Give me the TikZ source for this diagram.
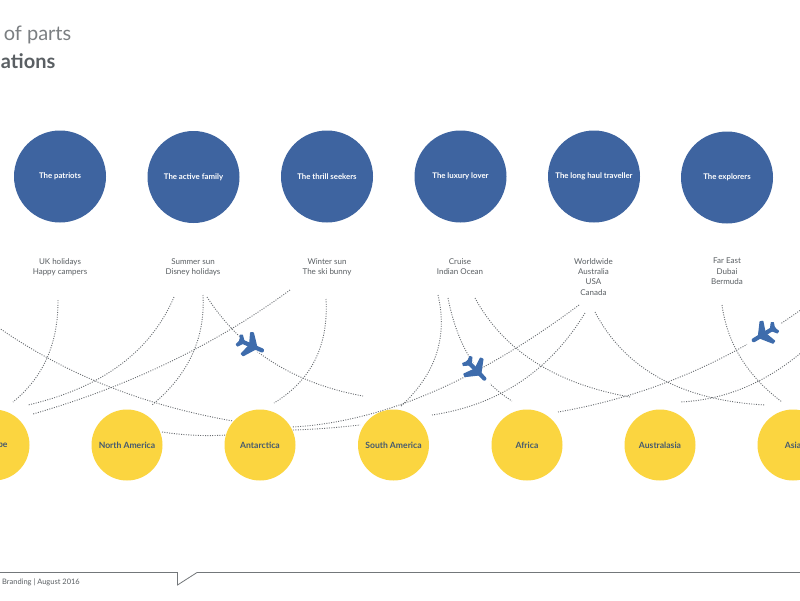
\documentclass[tikz,border=0pt]{standalone}
\usepackage{fontspec}
\usetikzlibrary{calc}
\setmainfont{Lato}
\definecolor{dotblue}{HTML}{3E64A0}
\definecolor{sunyellow}{HTML}{FBD540}
\definecolor{planeblue}{HTML}{3E6CAC}
\definecolor{inkgrey}{HTML}{5A5F63}
\definecolor{yellowink}{HTML}{44596F}
\definecolor{dotgrey}{HTML}{6A6E72}
\newcommand{\flightarc}[3]{\path[flight] (#1) .. controls ($(#1)!0.667!(#3)$) and ($(#2)!0.667!(#3)$) .. (#2);}
\newcommand{\lowered}[1]{\raisebox{-2pt}{#1}}
\tikzset{
  x=1pt,y=-1pt,
  segment/.style={circle,fill=dotblue,minimum size=92pt,inner sep=0pt,text=white,font=\fontsize{7.8}{10}\selectfont\bfseries,align=center},
  place/.style={circle,fill=sunyellow,minimum size=71pt,inner sep=0pt,text=yellowink,font=\fontsize{8.6}{10}\selectfont\bfseries,align=center},
  holiday/.style={inner sep=0pt,text=inkgrey,font=\fontsize{8}{10.4}\selectfont,align=center,anchor=north},
  flight/.style={draw=dotgrey,line width=0.9pt,dash pattern=on 1pt off 1.4pt},
  planeshape/.style={draw=planeblue,fill=planeblue,line cap=round,line join=round},
  plane/.pic={
    \draw[white,line width=6pt,line cap=round] (-17,0) -- (17,0);
    \draw[planeshape,line width=4.2pt] (-11,0) -- (12,0);
    \draw[planeshape,line width=1.2pt] (5.5,-1.5) -- (-3,-12.5) -- (-5.5,-11.5) -- (-2,-1.5) -- (-2,1.5) -- (-5.5,11.5) -- (-3,12.5) -- (5.5,1.5) -- cycle;
    \draw[planeshape,line width=1pt] (-8,-1) -- (-12,-6) -- (-14,-5) -- (-12.5,-1) -- (-12.5,1) -- (-14,5) -- (-12,6) -- (-8,1) -- cycle;
  }
}
\begin{document}
\begin{tikzpicture}
\path[use as bounding box] (0,0) rectangle (800,600);
\clip (0,0) rectangle (800,600);
\fill[white] (0,0) rectangle (800,600);

% title
\node[anchor=base east,inner sep=0pt,text=inkgrey!80,font=\fontsize{20}{24}\selectfont] (title1) at (71.5,40) {of parts};
\node[anchor=base east,inner sep=0pt,text=inkgrey,font=\fontsize{20}{24}\selectfont\bfseries] (title2) at (55.5,68.5) {ations};

% segments
\node[segment] (s1) at (60,176.5) {\lowered{The patriots}};
\node[segment] (s2) at (193.5,177) {\lowered{The active family}};
\node[segment] (s3) at (327,176.5) {\lowered{The thrill seekers}};
\node[segment] (s4) at (460.5,176.5) {\lowered{The luxury lover}};
\node[segment] (s5) at (594,176.5) {\lowered{The long haul traveller}};
\node[segment] (s6) at (727,177.5) {\lowered{The explorers}};

% holiday labels
\node[holiday] (h1) at (60,258) {UK holidays\\Happy campers};
\node[holiday] (h2) at (193,258) {Summer sun\\Disney holidays};
\node[holiday] (h3) at (327,258) {Winter sun\\The ski bunny};
\node[holiday] (h4) at (460,258) {Cruise\\Indian Ocean};
\node[holiday] (h5) at (593.5,258) {Worldwide\\Australia\\USA\\Canada};
\node[holiday] (h6) at (727,258) {Far East\\Dubai\\Bermuda};

% flight paths
\coordinate (a0) at (58,300);   \coordinate (a1) at (13,402);
\coordinate (b0) at (174,297);  \coordinate (b1) at (28,405);
\coordinate (c0) at (203,295);  \coordinate (c1) at (152,405);
\coordinate (d0) at (207,297);  \coordinate (d1) at (363,396);
\coordinate (e0) at (290,290);  \coordinate (e1) at (33,414);
\coordinate (f0) at (326,299);  \coordinate (f1) at (274,403);
\coordinate (g0) at (-5,325);   \coordinate (g1) at (233,421);
\coordinate (i0) at (438,295);  \coordinate (i1) at (400,407);
\coordinate (j0) at (448,298);  \coordinate (j1) at (512,401);
\coordinate (k0) at (475,298);  \coordinate (k1) at (630,397);
\coordinate (l0) at (579,305);  \coordinate (l1) at (292,427);
\coordinate (m0) at (585,313);  \coordinate (m1) at (432,415);
\coordinate (n0) at (595,312);  \coordinate (n1) at (765,405);
\coordinate (o0) at (802,309);  \coordinate (o1) at (558,412);
\coordinate (p0) at (722,305);  \coordinate (p1) at (782,402);
\coordinate (q0) at (802,352);  \coordinate (q1) at (680,402);
\coordinate (r0) at (162,432);  \coordinate (r1) at (227,435);
\coordinate (t0) at (293,430);  \coordinate (t1) at (360,425);

\flightarc{a0}{a1}{58.5,365}
\flightarc{b0}{b1}{139,379}
\flightarc{c0}{c1}{206.5,360}
\flightarc{d0}{d1}{259,377}
\flightarc{e0}{e1}{178,372}
\flightarc{f0}{f1}{330,369}
\flightarc{g0}{g1}{96,397}
\flightarc{i0}{i1}{453,359}
\flightarc{j0}{j1}{462,370}
\flightarc{k0}{k1}{518,377}
\flightarc{l0}{l1}{425,420}
\flightarc{m0}{m1}{532,400}
\flightarc{n0}{n1}{640,398}
\flightarc{o0}{o1}{691,389}
\flightarc{p0}{p1}{730,363}
\flightarc{q0}{q1}{746,399}
\flightarc{r0}{r1}{195,437}
\flightarc{t0}{t1}{325,429}

% places
\node[place] (p1n) at (-6,445) {\lowered{Europe}};
\node[place] (p2n) at (127,445) {\lowered{North America}};
\node[place] (p3n) at (260,445) {\lowered{Antarctica}};
\node[place] (p4n) at (393.5,445) {\lowered{South America}};
\node[place] (p5n) at (527,445) {\lowered{Africa}};
\node[place] (p6n) at (660,445) {\lowered{Australasia}};
\node[place] (p7n) at (793,445) {\lowered{Asia}};

% planes
\pic[rotate=-24] at (251,345.5) {plane};
\pic[rotate=-46] at (476,370) {plane};
\pic[rotate=-149] at (764,334) {plane};

% footer
\coordinate (fa) at (0,572.5);
\coordinate (fb) at (177.5,572.5);
\coordinate (fc) at (177.5,585);
\coordinate (fd) at (197,572.5);
\coordinate (fe) at (800,572.5);
\draw[draw=inkgrey!85,line width=0.8pt] (fa) -- (fb) -- (fc) -- (fd) -- (fe);
\node[anchor=base east,inner sep=0pt,text=inkgrey,font=\fontsize{7.5}{9}\selectfont] (foot) at (80,584) {Branding | August 2016};
\end{tikzpicture}
\end{document}
